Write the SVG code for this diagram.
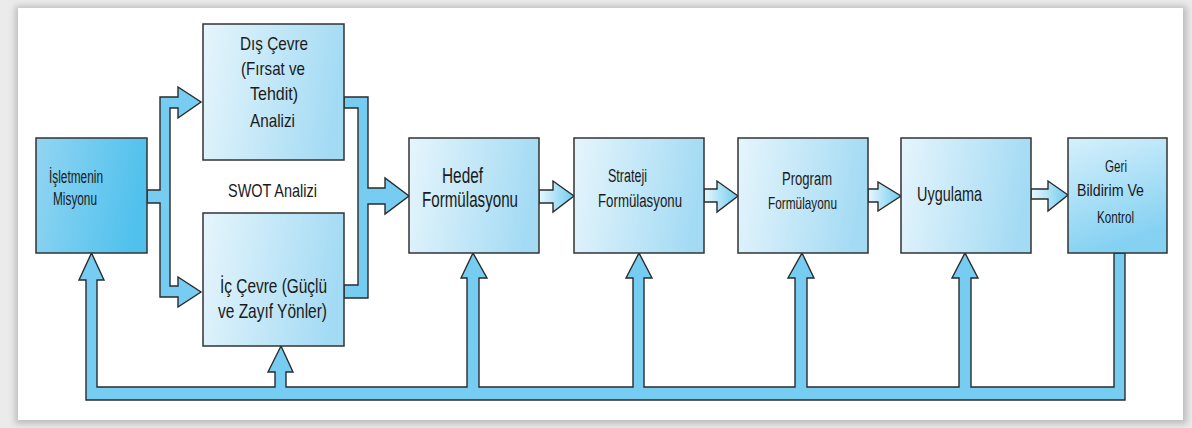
<svg xmlns="http://www.w3.org/2000/svg" width="1192" height="428" viewBox="0 0 1192 428">
  <defs>
    <linearGradient id="gBox" x1="0" y1="0" x2="1" y2="0.15">
      <stop offset="0" stop-color="#e6f5fc"/>
      <stop offset="1" stop-color="#a4dbf4"/>
    </linearGradient>
    <linearGradient id="gMission" x1="0" y1="0" x2="1" y2="0.2">
      <stop offset="0" stop-color="#92d5f2"/>
      <stop offset="1" stop-color="#50c1ed"/>
    </linearGradient>
    <linearGradient id="gGeri" x1="0" y1="0" x2="0.3" y2="1">
      <stop offset="0" stop-color="#d6f0fb"/>
      <stop offset="1" stop-color="#84d1f2"/>
    </linearGradient>
    <linearGradient id="gArrow" x1="0" y1="0" x2="1" y2="0">
      <stop offset="0" stop-color="#e9f7fd"/>
      <stop offset="1" stop-color="#6ecbf0"/>
    </linearGradient>
    <filter id="shadow" x="-5%" y="-10%" width="110%" height="120%">
      <feGaussianBlur stdDeviation="3"/>
    </filter>
  </defs>
  <style>
    .box { stroke: #333; stroke-width: 1.5; }
    .conn { stroke: #2b2b2b; stroke-width: 1.4; stroke-linejoin: miter; }
    .flow { fill: #76cdf1; }
    .small { fill: url(#gArrow); }
    text { font-family: "Liberation Sans", Arial, sans-serif; fill: #1a1a1a; }
  </style>

  <rect x="0" y="0" width="1192" height="428" fill="#ebebeb"/>
  <rect x="15" y="6" width="1172" height="418" fill="#bdbdbd" filter="url(#shadow)"/>
  <rect x="18" y="8" width="1165" height="412" fill="#ffffff"/>

  <g id="connectors">
    <path class="conn flow" d="M147,190 H160 V97 H178 V87 L201,102 L178,118 V108 H170 V286 H178 V277 L201,292 L178,307 V297 H160 V203 H147 Z"/>
    <path class="conn flow" d="M344,97 H368 V188 H385 V178 L409,196 L385,214 V204 H368 V298 H344 V285 H358 V108 H344 Z"/>
    <path class="conn small" d="M539,190 H553 V181 L574,196 L553,212 V203 H539 Z"/>
    <path class="conn small" d="M704,189 H717 V181 L738,196 L717,212 V202 H704 Z"/>
    <path class="conn small" d="M868,189 H878 V182 L901,196 L878,211 V202 H868 Z"/>
    <path class="conn small" d="M1031,189 H1048 V181 L1068,195 L1048,211 V199 H1031 Z"/>
    <path class="conn flow" d="M1125,253 V400 H86 V280 H79 L91.5,253 L104,280 H97 V387 H275 V372 H268 L281,346 L293,372 H286 V387 H467 V278 H461 L473,253 L487,278 H479 V387 H633 V278 H626 L639,253 L652,278 H644 V387 H795 V278 H788 L802,253 L814,278 H807 V387 H959 V278 H952 L965,253 L978,278 H971 V387 H1114 V253 Z"/>
  </g>

  <g id="misyon">
    <rect class="box" x="36" y="138" width="111" height="115" fill="url(#gMission)"/>
    <text x="49" y="183" font-size="18" textLength="54" lengthAdjust="spacingAndGlyphs">İşletmenin</text>
    <text x="53" y="205" font-size="18" textLength="44" lengthAdjust="spacingAndGlyphs">Misyonu</text>
  </g>

  <g id="dis-cevre">
    <rect class="box" x="203" y="24" width="141" height="136" fill="url(#gBox)"/>
    <text x="240" y="50" font-size="19" textLength="68" lengthAdjust="spacingAndGlyphs">Dış Çevre</text>
    <text x="241" y="75" font-size="19" textLength="64" lengthAdjust="spacingAndGlyphs">(Fırsat ve</text>
    <text x="250" y="100" font-size="19" textLength="48" lengthAdjust="spacingAndGlyphs">Tehdit)</text>
    <text x="250" y="127" font-size="19" textLength="45" lengthAdjust="spacingAndGlyphs">Analizi</text>
  </g>

  <g id="swot-label">
    <text x="228" y="197" font-size="19" textLength="89" lengthAdjust="spacingAndGlyphs">SWOT Analizi</text>
  </g>

  <g id="ic-cevre">
    <rect class="box" x="203" y="213" width="141" height="133" fill="url(#gBox)"/>
    <text x="220" y="293" font-size="21" textLength="107" lengthAdjust="spacingAndGlyphs">İç Çevre (Güçlü</text>
    <text x="218" y="318" font-size="21" textLength="109" lengthAdjust="spacingAndGlyphs">ve Zayıf Yönler)</text>
  </g>

  <g id="hedef">
    <rect class="box" x="409" y="138" width="130" height="115" fill="url(#gBox)"/>
    <text x="442" y="183" font-size="22" textLength="41" lengthAdjust="spacingAndGlyphs">Hedef</text>
    <text x="422" y="207" font-size="22" textLength="96" lengthAdjust="spacingAndGlyphs">Formülasyonu</text>
  </g>

  <g id="strateji">
    <rect class="box" x="574" y="138" width="130" height="115" fill="url(#gBox)"/>
    <text x="608" y="182" font-size="18" textLength="39" lengthAdjust="spacingAndGlyphs">Strateji</text>
    <text x="598" y="207" font-size="18" textLength="84" lengthAdjust="spacingAndGlyphs">Formülasyonu</text>
  </g>

  <g id="program">
    <rect class="box" x="738" y="138" width="130" height="115" fill="url(#gBox)"/>
    <text x="782" y="185" font-size="18" textLength="50" lengthAdjust="spacingAndGlyphs">Program</text>
    <text x="768" y="209" font-size="17" textLength="69" lengthAdjust="spacingAndGlyphs">Formülayonu</text>
  </g>

  <g id="uygulama">
    <rect class="box" x="901" y="138" width="130" height="115" fill="url(#gBox)"/>
    <text x="917" y="201" font-size="21" textLength="65" lengthAdjust="spacingAndGlyphs">Uygulama</text>
  </g>

  <g id="geri-bildirim">
    <rect class="box" x="1068" y="138" width="99" height="115" fill="url(#gGeri)"/>
    <text x="1105" y="172" font-size="16" textLength="22" lengthAdjust="spacingAndGlyphs">Geri</text>
    <text x="1077" y="196" font-size="16" textLength="67" lengthAdjust="spacingAndGlyphs">Bildirim Ve</text>
    <text x="1097" y="223" font-size="16" textLength="37" lengthAdjust="spacingAndGlyphs">Kontrol</text>
  </g>
</svg>
